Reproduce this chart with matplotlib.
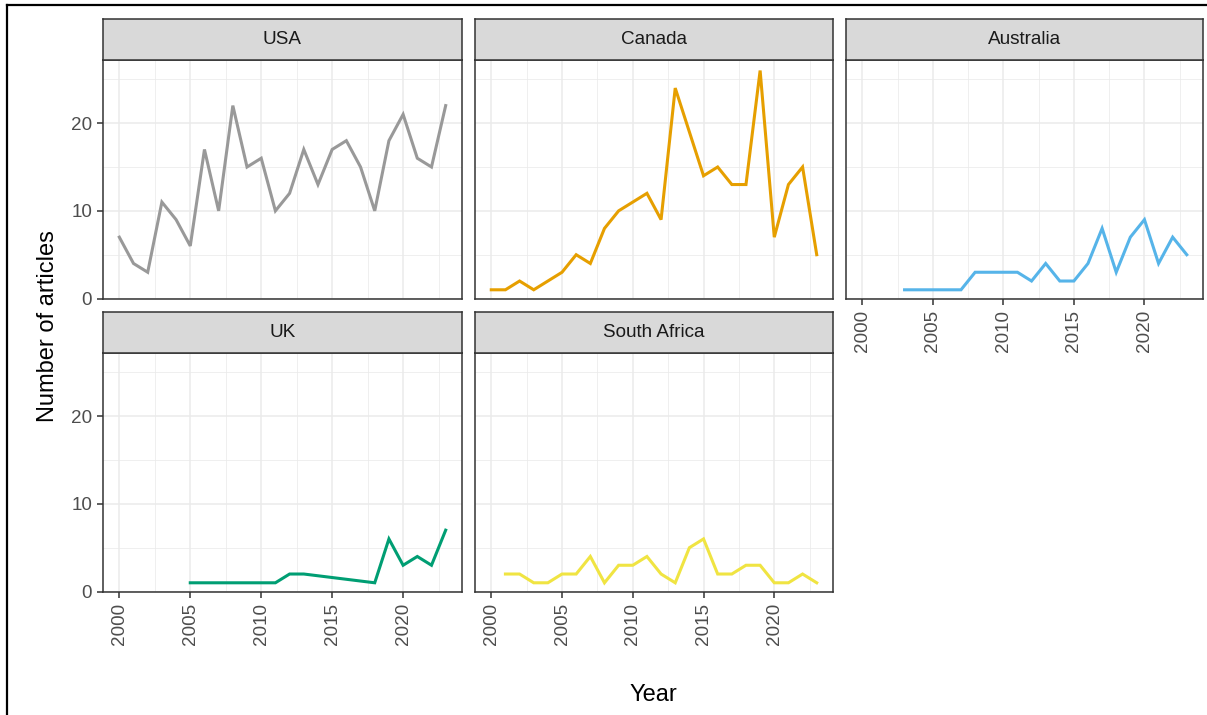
import matplotlib
matplotlib.use("Agg")
import matplotlib.pyplot as plt
from matplotlib.lines import Line2D

plt.rcParams['font.family'] = ['Liberation Sans', 'DejaVu Sans']

# data
usa_years = list(range(2000, 2024))
usa = [7, 4, 3, 11, 9, 6, 17, 10, 22, 15, 16, 10, 12, 17, 13, 17, 18, 15, 10, 18, 21, 16, 15, 22]

canada_years = list(range(2000, 2024))
canada = [1, 1, 2, 1, 2, 3, 5, 4, 8, 10, 11, 12, 9, 24, 19, 14, 15, 13, 13, 26, 7, 13, 15, 5]

australia_years = list(range(2003, 2024))
australia = [1, 1, 1, 1, 1, 3, 3, 3, 3, 2, 4, 2, 2, 4, 8, 3, 7, 9, 4, 7, 5]

uk_years = [2005, 2011, 2012, 2013, 2018, 2019, 2020, 2021, 2022, 2023]
uk = [1, 1, 2, 2, 1, 6, 3, 4, 3, 7]

sa_years = list(range(2001, 2024))
south_africa = [2, 2, 1, 1, 2, 2, 4, 1, 3, 3, 4, 2, 1, 5, 6, 2, 2, 3, 3, 1, 1, 2, 1]

countries = ['USA', 'Canada', 'Australia', 'UK', 'South Africa']
series = [(usa_years, usa), (canada_years, canada), (australia_years, australia),
          (uk_years, uk), (sa_years, south_africa)]
colors = ['#999999', '#E69F00', '#56B4E9', '#009E73', '#F0E442']

W, H = 1207, 715
fig = plt.figure(figsize=(W / 100, H / 100), dpi=100)

cols = [(103, 462), (475, 833), (846, 1203)]
rows = [(60, 299), (353, 592)]
strip_h = 41

def box(x0, y0, x1, y1):
    return [x0 / W, 1 - y1 / H, (x1 - x0) / W, (y1 - y0) / H]

dark = '#333333'
txt = '#4D4D4D'

for i, name in enumerate(countries):
    r, c = divmod(i, 3)
    x0, x1 = cols[c]
    y0, y1 = rows[r]
    ax = fig.add_axes(box(x0, y0, x1, y1))
    yrs, vals = series[i]
    ax.plot(yrs, vals, color=colors[i], lw=2.2, solid_joinstyle='miter', zorder=3)
    ax.set_xlim(1998.85, 2024.15)
    ax.set_ylim(-0.05, 27.2)
    ax.set_xticks([2000, 2005, 2010, 2015, 2020])
    ax.set_xticks([2002.5, 2007.5, 2012.5, 2017.5, 2022.5], minor=True)
    ax.set_yticks([0, 10, 20])
    ax.set_yticks([5, 15, 25], minor=True)
    ax.grid(which='major', color='#EBEBEB', lw=1.1)
    ax.grid(which='minor', color='#EBEBEB', lw=0.55)
    ax.set_axisbelow(True)
    for s in ax.spines.values():
        s.set_color(dark)
        s.set_linewidth(1.1)
    ax.tick_params(which='minor', length=0)
    ax.tick_params(which='major', length=4.3, width=1.1, color=dark,
                   labelcolor=txt, labelsize=13.6, pad=3.5)
    show_x = (r == 1) or (c == 2)
    show_y = (c == 0)
    ax.tick_params(axis='x', bottom=show_x, labelbottom=show_x, labelrotation=90)
    ax.tick_params(axis='y', left=show_y, labelleft=show_y)

    # facet strip
    sax = fig.add_axes(box(x0, y0 - strip_h, x1, y0))
    sax.set_facecolor('#D9D9D9')
    sax.set_xticks([])
    sax.set_yticks([])
    for s in sax.spines.values():
        s.set_color(dark)
        s.set_linewidth(1.1)
    sax.text(0.5, 0.5, name, ha='center', va='center', fontsize=13.6,
             color='#1A1A1A', transform=sax.transAxes)

fig.text(48 / W, 1 - 326 / H, 'Number of articles', rotation=90,
         ha='center', va='center', fontsize=17)
fig.text(653 / W, 1 - 695 / H, 'Year', ha='center', va='center', fontsize=17)

# screenshot frame (top and left edges only)
fig.add_artist(Line2D([7 / W, 1.0], [1 - 5 / H, 1 - 5 / H], color='black', lw=1.6,
                      transform=fig.transFigure))
fig.add_artist(Line2D([7 / W, 7 / W], [0, 1 - 5 / H], color='black', lw=1.6,
                      transform=fig.transFigure))

fig.savefig('out.png', dpi=100, facecolor='white')
